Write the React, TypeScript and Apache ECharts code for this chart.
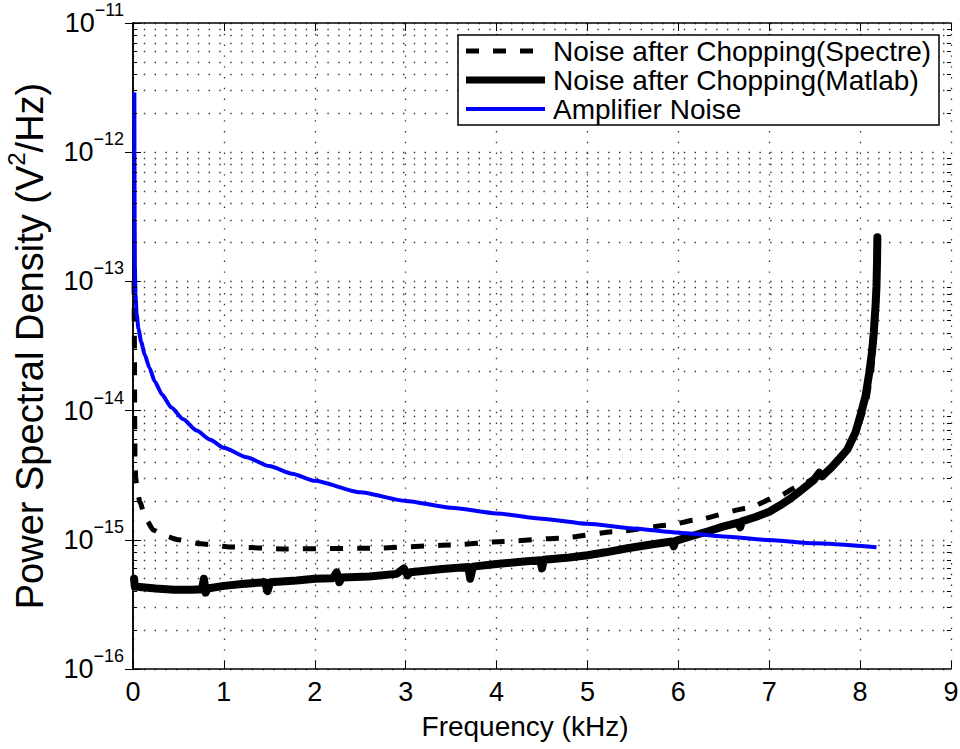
import React, { useEffect, useRef } from "react";
import * as echarts from "echarts";

// ---- data (kHz, V^2/Hz) ----
const xTicks = [0, 1, 2, 3, 4, 5, 6, 7, 8, 9];
const yDecadeExps = [-16, -15, -14, -13, -12, -11];
const minorMultipliers = [2, 3, 4, 5, 6, 7, 8, 9];

const seriesNames = [
  "Noise after Chopping(Spectre)",
  "Noise after Chopping(Matlab)",
  "Amplifier Noise",
];

const spectreFreq = [0.012, 0.016, 0.019, 0.022, 0.03, 0.045, 0.077, 0.14, 0.224, 0.35, 0.5, 0.75, 1.07, 1.69, 2.61, 3.49, 4.07, 4.7, 5.33, 5.91, 6.17, 6.76, 7.09, 7.38, 7.6, 7.8, 7.95, 8.05, 8.12, 8.16, 8.18, 8.19];
const spectreVal = [1.0e-13, 3.0e-14, 8e-15, 4.0e-15, 3.0e-15, 2.4e-15, 1.95e-15, 1.45e-15, 1.19e-15, 1.07e-15, 1.0e-15, 9.3e-16, 8.8e-16, 8.5e-16, 8.6e-16, 9.1e-16, 9.7e-16, 1.03e-15, 1.16e-15, 1.3e-15, 1.42e-15, 1.75e-15, 2.16e-15, 2.74e-15, 3.3e-15, 4.4e-15, 6.6e-15, 1.0e-14, 1.8e-14, 3.8e-14, 9e-14, 2.2e-13];

const matlabFreq = [0.012, 0.02, 0.1, 0.25, 0.45, 0.65, 0.76, 0.78, 0.8, 0.82, 1.0, 1.2, 1.45, 1.48, 1.51, 1.8, 2.0, 2.2, 2.24, 2.27, 2.3, 2.6, 2.9, 2.98, 3.02, 3.05, 3.4, 3.69, 3.71, 3.74, 4.0, 4.3, 4.48, 4.5, 4.52, 4.8, 5.0, 5.2, 5.44, 5.7, 5.93, 5.95, 5.97, 6.15, 6.32, 6.5, 6.66, 6.68, 6.7, 6.85, 7.0, 7.12, 7.24, 7.36, 7.49, 7.55, 7.58, 7.68, 7.78, 7.86, 7.95, 8.01, 8.06, 8.1, 8.13, 8.15, 8.17, 8.18, 8.186, 8.19];
const matlabVal = [5.0e-16, 4.35e-16, 4.3e-16, 4.2e-16, 4.1e-16, 4.1e-16, 4.15e-16, 5.0e-16, 3.9e-16, 4.2e-16, 4.4e-16, 4.55e-16, 4.7e-16, 4.0e-16, 4.7e-16, 4.85e-16, 5.0e-16, 5.05e-16, 5.6e-16, 4.7e-16, 5.1e-16, 5.2e-16, 5.45e-16, 6.0e-16, 5.3e-16, 5.6e-16, 5.95e-16, 6.15e-16, 5.0e-16, 6.2e-16, 6.5e-16, 6.8e-16, 6.95e-16, 6.0e-16, 7.0e-16, 7.3e-16, 7.6e-16, 8.0e-16, 8.6e-16, 9.2e-16, 9.7e-16, 8.9e-16, 9.8e-16, 1.07e-15, 1.16e-15, 1.27e-15, 1.36e-15, 1.25e-15, 1.39e-15, 1.5e-15, 1.65e-15, 1.85e-15, 2.1e-15, 2.45e-15, 2.9e-15, 3.3e-15, 3.1e-15, 3.6e-15, 4.3e-15, 5.0e-15, 6.8e-15, 9.5e-15, 1.3e-14, 1.95e-14, 2.8e-14, 4.0e-14, 6.5e-14, 9.1e-14, 1.4e-13, 2.2e-13];

const ampFreq = [0.015, 0.016, 0.018, 0.021, 0.027, 0.04, 0.06, 0.09, 0.13, 0.18, 0.24, 0.32, 0.42, 0.55, 0.7, 0.85, 1.0, 1.25, 1.5, 1.75, 2.0, 2.5, 3.0, 3.5, 4.0, 4.5, 5.0, 5.5, 6.0, 6.5, 7.0, 7.5, 8.18];
const ampVal = [2.9e-12, 1.0e-12, 3.0e-13, 1.3e-13, 8e-14, 5.6e-14, 4.3e-14, 3.4e-14, 2.7e-14, 2.15e-14, 1.68e-14, 1.33e-14, 1.06e-14, 8.6e-15, 7.0e-15, 5.95e-15, 5.15e-15, 4.35e-15, 3.72e-15, 3.24e-15, 2.86e-15, 2.33e-15, 2.0e-15, 1.77e-15, 1.6e-15, 1.455e-15, 1.33e-15, 1.225e-15, 1.135e-15, 1.06e-15, 9.95e-16, 9.4e-16, 8.75e-16];

const FONT = "'Liberation Sans', Arial, Helvetica, sans-serif";
const DOT = [1.4, 9.4];
const DASH = [13, 14];

function pairs(xs: number[], ys: number[]) {
  return xs.map((x, i) => [x, ys[i]]);
}

export default function App() {
  const ref = useRef<HTMLDivElement>(null);

  useEffect(() => {
    if (!ref.current) return;
    const chart = echarts.init(ref.current, undefined, { renderer: "svg" });

    const minorVals: number[] = [];
    yDecadeExps.slice(0, -1).forEach((e) => {
      minorMultipliers.forEach((m) => {
        minorVals.push(Number((m * Math.pow(10, e)).toPrecision(3)));
      });
    });
    const xMin = xTicks[0];
    const xMax = xTicks[xTicks.length - 1];
    const yMin = Math.pow(10, yDecadeExps[0]);
    const yMax = Math.pow(10, yDecadeExps[yDecadeExps.length - 1]);
    const minorTickLen = 0.045;

    const labelFmt = (v: number) => {
      const e = Math.round(Math.log10(v));
      return `{b|10}{s|\u2212${Math.abs(e)}}`;
    };

    const axisLine = { show: true, lineStyle: { color: "#000", width: 1.5 } };
    const majorTick = { show: true, inside: true, length: 8, lineStyle: { color: "#000", width: 1 } };

    const legendX = 458;
    const legendY = 35;
    const rowY = [51, 80, 109];
    const lineX1 = 466;
    const lineX2 = 545;
    const textX = 553;

    const option: any = {
      animation: false,
      backgroundColor: "#fff",
      grid: { left: 133, right: 9, top: 23, bottom: 80, containLabel: false, outerBoundsMode: "none" },
      xAxis: [
        {
          type: "value",
          min: xMin,
          max: xMax,
          interval: 1,
          position: "bottom",
          name: "Frequency (kHz)",
          nameLocation: "middle",
          nameGap: 43,
          nameTextStyle: { fontSize: 28, fontFamily: FONT, color: "#000", padding: [0, 34, 0, 0] },
          axisLine,
          axisTick: majorTick,
          axisLabel: { fontSize: 27, fontFamily: FONT, color: "#000", margin: 9 },
          splitLine: { show: true, lineStyle: { color: "#333", width: 1.3, type: DOT } },
        },
        {
          type: "value",
          min: xMin,
          max: xMax,
          interval: 1,
          position: "top",
          axisLine,
          axisTick: majorTick,
          axisLabel: { show: false },
          splitLine: { show: false },
        },
      ],
      yAxis: [
        {
          type: "log",
          logBase: 10,
          min: yMin,
          max: yMax,
          splitNumber: 5,
          position: "left",
          name: "{t|Power Spectral Density (V}{sup|2}{t|/Hz)}",
          nameLocation: "middle",
          nameRotate: 90,
          nameGap: 77,
          nameTextStyle: {
            fontSize: 38,
            fontFamily: FONT,
            color: "#000",
            rich: {
              t: { fontSize: 38, fontFamily: FONT, color: "#000", lineHeight: 52 },
              sup: { fontSize: 24, fontFamily: FONT, color: "#000", lineHeight: 24, verticalAlign: "top" },
            },
          },
          axisLine,
          axisTick: majorTick,
          axisLabel: {
            margin: 9,
            formatter: labelFmt,
            rich: {
              b: { fontSize: 27, fontFamily: FONT, color: "#000", lineHeight: 44 },
              s: { fontSize: 18, fontFamily: FONT, color: "#000", lineHeight: 16, verticalAlign: "top" },
            },
          },
          splitLine: { show: true, lineStyle: { color: "#333", width: 1.3, type: DOT } },
        },
        {
          type: "log",
          logBase: 10,
          min: yMin,
          max: yMax,
          splitNumber: 5,
          position: "right",
          axisLine,
          axisTick: majorTick,
          axisLabel: { show: false },
          splitLine: { show: false },
        },
      ],
      series: [
        {
          name: seriesNames[0],
          type: "line",
          xAxisIndex: 0,
          yAxisIndex: 0,
          data: pairs(spectreFreq, spectreVal),
          showSymbol: false,
          symbol: "none",
          smooth: 0.2,
          smoothMonotone: "x",
          z: 3,
          lineStyle: { color: "#000", width: 5, type: DASH, cap: "butt", join: "round" },
          markLine: {
            silent: true,
            z: 1,
            precision: 20,
            symbol: ["none", "none"],
            label: { show: false },
            emphasis: { disabled: true },
            animation: false,
            lineStyle: { color: "#333", width: 1.3, type: DOT },
            data: minorVals.map((v) => ({ yAxis: v })),
          },
        },
        {
          name: seriesNames[1],
          type: "line",
          xAxisIndex: 0,
          yAxisIndex: 0,
          data: pairs(matlabFreq, matlabVal),
          showSymbol: false,
          symbol: "none",
          z: 3,
          lineStyle: { color: "#000", width: 8, type: "solid", cap: "round", join: "round" },
          markLine: {
            silent: true,
            z: 4,
            precision: 20,
            symbol: ["none", "none"],
            label: { show: false },
            emphasis: { disabled: true },
            animation: false,
            lineStyle: { color: "#000", width: 1, type: "solid" },
            data: minorVals.flatMap((v) => [
              [{ coord: [xMin, v] }, { coord: [xMin + minorTickLen, v] }],
              [{ coord: [xMax - minorTickLen, v] }, { coord: [xMax, v] }],
            ]),
          },
        },
        {
          name: seriesNames[2],
          type: "line",
          xAxisIndex: 0,
          yAxisIndex: 0,
          data: pairs(ampFreq, ampVal),
          showSymbol: false,
          symbol: "none",
          smooth: 0.2,
          smoothMonotone: "x",
          z: 3,
          lineStyle: { color: "#0000ff", width: 4, type: "solid", cap: "butt", join: "round" },
        },
      ],
      graphic: [
        {
          type: "group",
          z: 100,
          children: [
            {
              type: "rect",
              shape: { x: legendX, y: legendY, width: 481, height: 90 },
              style: { fill: "#fff", stroke: "#000", lineWidth: 1.5 },
              z: 100,
            },
            {
              type: "line",
              shape: { x1: lineX1, y1: rowY[0], x2: lineX2, y2: rowY[0] },
              style: { stroke: "#000", lineWidth: 5, lineDash: DASH },
              z: 101,
            },
            {
              type: "line",
              shape: { x1: lineX1, y1: rowY[1], x2: lineX2, y2: rowY[1] },
              style: { stroke: "#000", lineWidth: 7 },
              z: 101,
            },
            {
              type: "line",
              shape: { x1: lineX1, y1: rowY[2], x2: lineX2, y2: rowY[2] },
              style: { stroke: "#0000ff", lineWidth: 4 },
              z: 101,
            },
            ...seriesNames.map((n, i) => ({
              type: "text",
              x: textX,
              y: rowY[i],
              z: 101,
              style: {
                text: n,
                fontSize: 28,
                lineHeight: 28,
                fontFamily: FONT,
                fill: "#000",
                verticalAlign: "middle",
              },
            })),
          ],
        },
      ],
    };

    chart.setOption(option);
    return () => chart.dispose();
  }, []);

  return (
    <div
      ref={ref}
      style={{ position: "fixed", left: 0, top: 0, width: 960, height: 749, background: "#fff" }}
    />
  );
}
